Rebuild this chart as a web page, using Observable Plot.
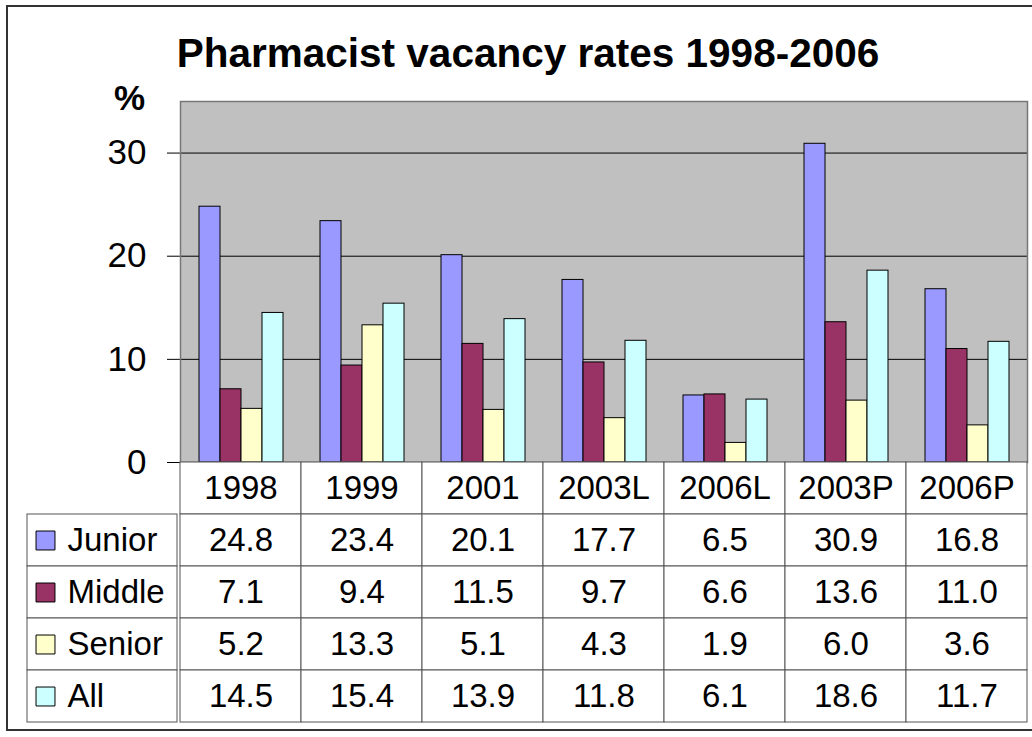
<!DOCTYPE html>
<html><head><meta charset="utf-8">
<script src="https://cdn.jsdelivr.net/npm/d3@7"></script>
<script src="https://cdn.jsdelivr.net/npm/@observablehq/plot@0.6"></script>
<style>
html,body{margin:0;padding:0;background:#fff;overflow:hidden}
#wrap{position:relative;width:1032px;height:737px;overflow:hidden;font-family:"Liberation Sans",Arial,sans-serif;color:#000}
#border{position:absolute;left:6px;top:5px;width:1060px;height:726px;border:2px solid #333;box-sizing:border-box}
#title{position:absolute;left:0;top:33px;width:1056px;text-align:center;font-weight:bold;font-size:40.5px;line-height:40px;white-space:nowrap}
#pct{position:absolute;left:114px;top:80px;font-weight:bold;font-size:35px;line-height:35px}
#bars{position:absolute;left:0;top:0}
#labels{position:absolute;left:0;top:462px}
#table{position:absolute;left:0;top:462px}
svg{overflow:visible}
</style></head>
<body><div id="wrap">
<div id="border"></div>
<div id="title">Pharmacist vacancy rates 1998-2006</div>
<div id="pct">%</div>
<div id="bars"></div>
<div id="labels"></div>
<div id="table"></div>
</div>
<script>
const categories = ["1998","1999","2001","2003L","2006L","2003P","2006P"];
const series = ["Junior","Middle","Senior","All"];
const junior = [24.8,23.4,20.1,17.7,6.5,30.9,16.8];
const middle = [7.1,9.4,11.5,9.7,6.6,13.6,11.0];
const senior = [5.2,13.3,5.1,4.3,1.9,6.0,3.6];
const all = [14.5,15.4,13.9,11.8,6.1,18.6,11.7];
const colors = ["#9999FF","#993366","#FFFFCC","#CCFFFF"];
const yTicks = [0,10,20,30];
const yMax = 35;

const seriesValues = [junior, middle, senior, all];
const rows = [];
series.forEach((s, i) => categories.forEach((c, j) => rows.push({series: s, category: c, value: seriesValues[i][j]})));

const font = '"Liberation Sans", Arial, sans-serif';

const bars = Plot.plot({
  width: 1032, height: 463,
  marginLeft: 177, marginRight: 3, marginTop: 101, marginBottom: 1,
  style: {fontFamily: font, fontSize: "35px", color: "#000", background: "transparent"},
  fx: {domain: categories, padding: 0, axis: null},
  x: {domain: series, paddingInner: 0, paddingOuter: 0.766, axis: null},
  y: {domain: [0, yMax], ticks: yTicks, tickSize: 13, tickPadding: 21, label: null},
  color: {domain: series, range: colors},
  marks: [
    Plot.frame({fill: "#C0C0C0", facet: "super"}),
    Plot.ruleY(yTicks.filter(d => d > 0), {stroke: "#000", strokeWidth: 1}),
    Plot.barY(rows, {fx: "category", x: "series", y: "value", fill: "series", stroke: "#000", strokeWidth: 1}),
    Plot.ruleY([0], {stroke: "#000", strokeWidth: 1}),
    Plot.frame({stroke: "#777", strokeWidth: 1.5, facet: "super"})
  ]
});
document.getElementById("bars").append(bars);

const tableRows = ["", ...series];
const cells = categories.map(c => ({row: "", category: c, text: c}));
series.forEach((s, i) => categories.forEach((c, j) => cells.push({row: s, category: c, text: seriesValues[i][j].toFixed(1)})));

const table = Plot.plot({
  width: 1032, height: 260,
  marginLeft: 177, marginRight: 3, marginTop: 0, marginBottom: 0,
  style: {fontFamily: font, color: "#000", background: "transparent"},
  x: {domain: categories, padding: 0, axis: null},
  y: {domain: tableRows, padding: 0, axis: null},
  marks: [
    Plot.cell(cells, {x: "category", y: "row", fill: "#fff", stroke: "#555", inset: 0}),
    Plot.text(cells, {x: "category", y: "row", text: "text", fontSize: 33, fill: "#000"})
  ]
});
document.getElementById("table").append(table);

const labels = Plot.plot({
  width: 177, height: 260,
  marginLeft: 27, marginRight: 0, marginTop: 0, marginBottom: 0,
  style: {fontFamily: font, color: "#000", background: "transparent"},
  y: {domain: tableRows, padding: 0, axis: null},
  color: {domain: series, range: colors},
  marks: [
    Plot.cell(series, {y: d => d, fill: "#fff", stroke: "#555", inset: 0}),
    Plot.dot(series, {y: d => d, frameAnchor: "left", dx: 18, symbol: "square", r: 10.7, fill: d => d, stroke: "#000", strokeWidth: 1}),
    Plot.text(series, {y: d => d, text: d => d, frameAnchor: "left", dx: 40, textAnchor: "start", fontSize: 33, fill: "#000"})
  ]
});
document.getElementById("labels").append(labels);
</script>
</body></html>
